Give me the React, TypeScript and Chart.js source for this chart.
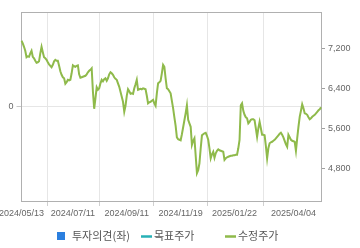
import React, { useEffect, useRef } from "react";
import { Chart, registerables } from "chart.js";

Chart.register(...registerables);

// Korean market holidays in the period (no trading)
const HOLIDAYS = [
  "2024/05/15", "2024/06/06", "2024/08/15", "2024/09/16", "2024/09/17", "2024/09/18",
  "2024/10/01", "2024/10/03", "2024/10/09", "2024/12/25", "2024/12/31", "2025/01/01",
  "2025/01/27", "2025/01/28", "2025/01/29", "2025/01/30", "2025/03/03", "2025/05/01",
  "2025/05/05", "2025/05/06",
];
const START_DATE = "2024/05/13";
const END_DATE = "2025/05/09";

const TICK_LABELS = ["2024/05/13", "2024/07/11", "2024/09/11", "2024/11/19", "2025/01/22", "2025/04/04"];
const RIGHT_TICKS = [4800, 5600, 6400, 7200];
const LEFT_TICKS = [0];

const SERIES_NAMES = ["투자의견(좌)", "목표주가", "수정주가"];
const OPINION: (number | null)[] = [];
const TARGET: (number | null)[] = [];
const PRICE = [
  7350, 7300, 7230, 7150, 7020, 7040, 7030, 7100, 7150, 7030,
  7000, 6950, 6910, 6920, 6940, 7100, 7230, 7120, 7020, 7000,
  6970, 6920, 6880, 6850, 6820, 6870, 6940, 6970, 6950, 6950,
  6850, 6740, 6670, 6620, 6600, 6490, 6520, 6570, 6560, 6570,
  6700, 6860, 6840, 6830, 6850, 6860, 6680, 6610, 6620, 6630,
  6640, 6650, 6680, 6720, 6750, 6770, 6800, 6330, 5990, 6200,
  6420, 6370, 6400, 6500, 6570, 6540, 6580, 6600, 6550, 6600,
  6680, 6720, 6700, 6670, 6620, 6590, 6570, 6500, 6430, 6330,
  6230, 6130, 5930, 6050, 6250, 6380, 6340, 6290, 6300, 6290,
  6400, 6480, 6570, 6370, 6380, 6390, 6380, 6400, 6390, 6380,
  6250, 6100, 6120, 6130, 6150, 6170, 6100, 6050, 6300, 6500,
  6520, 6550, 6700, 6870, 6830, 6600, 6400, 6380, 6340, 6300,
  6150, 6000, 5820, 5650, 5420, 5380, 5370, 5360, 5480, 5620,
  5760, 5900, 6060, 5770, 5700, 5630, 5270, 5350, 5400, 5050,
  4700, 4760, 4900, 5200, 5460, 5480, 5500, 5510, 5450, 5370,
  5200, 5000, 5080, 5130, 5010, 5100, 5150, 5180, 5160, 5150,
  5140, 5130, 4970, 5000, 5020, 5030, 5040, 5050, 5050, 5060,
  5060, 5070, 5070, 5200, 5370, 6060, 6100, 5950, 5870, 5820,
  5800, 5700, 5730, 5770, 5780, 5780, 5760, 5600, 5430, 5600,
  5730, 5600, 5470, 5470, 5460, 5250, 5000, 5200, 5300, 5320,
  5330, 5350, 5370, 5400, 5430, 5460, 5490, 5510, 5470, 5420,
  5350, 5280, 5230, 5470, 5420, 5370, 5350, 5340, 5330, 5150,
  5400, 5630, 5830, 5950, 6080, 6000, 5900, 5890, 5870, 5820,
  5780, 5800, 5830, 5850, 5870, 5900, 5930, 5960, 5980, 6020,
];

const COLORS = { opinion: "#2b7fdf", target: "#27b1b6", price: "#8fba4b" };

function fmt(d: Date) {
  const m = String(d.getMonth() + 1).padStart(2, "0");
  const day = String(d.getDate()).padStart(2, "0");
  return `${d.getFullYear()}/${m}/${day}`;
}

function tradingDays(): string[] {
  const out: string[] = [];
  const [sy, sm, sd] = START_DATE.split("/").map(Number);
  const d = new Date(sy, sm - 1, sd);
  for (let k = 0; k < 400; k++) {
    const s = fmt(d);
    const wd = d.getDay();
    if (wd !== 0 && wd !== 6 && !HOLIDAYS.includes(s)) out.push(s);
    if (s === END_DATE) break;
    d.setDate(d.getDate() + 1);
  }
  return out;
}

const frame = {
  id: "frame",
  beforeDatasetsDraw(chart: any) {
    const { ctx, chartArea: a } = chart;
    ctx.save();
    ctx.strokeStyle = "#b0b0b0";
    ctx.lineWidth = 1;
    ctx.strokeRect(Math.round(a.left) - 0.5, Math.round(a.top) + 0.5, Math.round(a.right - a.left), Math.round(a.bottom - a.top));
    ctx.restore();
  },
};

const legend = {
  id: "customLegend",
  afterDraw(chart: any) {
    const { ctx } = chart;
    const y = 236;
    ctx.save();
    ctx.font = '11px "Noto Sans CJK KR"';
    ctx.textBaseline = "middle";
    ctx.fillStyle = "#555";
    chart.data.datasets.forEach((ds: any, i: number) => {
      const x = 57 + i * 84;
      if (ds.type === "bar") {
        ctx.fillStyle = ds.backgroundColor;
        ctx.fillRect(x, 232, 8, 8);
        ctx.fillStyle = "#555";
        ctx.fillText(ds.label, x + 15, y);
      } else {
        ctx.strokeStyle = ds.borderColor;
        ctx.lineWidth = 2.5;
        ctx.beginPath();
        ctx.moveTo(x, y + 0.5);
        ctx.lineTo(x + 11, y + 0.5);
        ctx.stroke();
        ctx.fillStyle = "#555";
        ctx.fillText(ds.label, x + 13, y);
      }
    });
    ctx.restore();
  },
};

export default function App() {
  const ref = useRef<HTMLCanvasElement>(null);
  useEffect(() => {
    const labels = tradingDays();
    const tickFont = { family: "Liberation Sans", size: 9 };
    const chart = new Chart(ref.current!, {
      type: "line",
      data: {
        labels,
        datasets: [
          { type: "bar", label: SERIES_NAMES[0], data: OPINION, backgroundColor: COLORS.opinion, yAxisID: "y" } as any,
          { type: "line", label: SERIES_NAMES[1], data: TARGET, borderColor: COLORS.target, yAxisID: "y1", pointRadius: 0 },
          { type: "line", label: SERIES_NAMES[2], data: PRICE, borderColor: COLORS.price, borderWidth: 2, pointRadius: 0, tension: 0, yAxisID: "y1" },
        ],
      },
      options: {
        animation: false,
        responsive: false,
        devicePixelRatio: 1,
        layout: { padding: { top: 12, left: 0, right: 0, bottom: 0 } },
        plugins: { legend: { display: false }, tooltip: { enabled: false } },
        scales: {
          x: {
            type: "category",
            offset: false,
            border: { display: false },
            grid: { color: "#e6e6e6", tickColor: "#d0d0d0", tickLength: 5 },
            ticks: { autoSkip: false, maxRotation: 0, minRotation: 0, color: "#666", font: tickFont, padding: 2 },
            afterBuildTicks: (scale: any) => {
              scale.ticks = scale.ticks.filter((t: any) => TICK_LABELS.includes(labels[t.value]));
            },
            afterFit: (scale: any) => {
              scale.height = 47;
              scale.paddingLeft = 0;
              scale.paddingRight = 0;
            },
          },
          y: {
            position: "left",
            min: -1,
            max: 1,
            border: { display: false },
            grid: { color: "#e6e6e6", tickColor: "#c8c8c8", tickLength: 5 },
            ticks: { color: "#666", font: tickFont, padding: 3 },
            afterBuildTicks: (scale: any) => {
              scale.ticks = LEFT_TICKS.map((v) => ({ value: v }));
            },
            afterFit: (scale: any) => {
              scale.width = 21.5;
            },
          },
          y1: {
            position: "right",
            min: 4146,
            max: 7926,
            border: { display: false },
            grid: { drawOnChartArea: false, tickColor: "#a0a0a0", tickLength: 4 },
            ticks: {
              color: "#666",
              font: tickFont,
              padding: 3,
              callback: (v: any) => Number(v).toLocaleString("en-US"),
            },
            afterBuildTicks: (scale: any) => {
              scale.ticks = RIGHT_TICKS.map((v) => ({ value: v }));
            },
            afterFit: (scale: any) => {
              scale.width = 39;
            },
          },
        },
      },
      plugins: [frame, legend],
    });
    return () => chart.destroy();
  }, []);
  return (
    <div style={{ position: "fixed", left: 0, top: 0, width: 360, height: 248, background: "#fff" }}>
      <canvas ref={ref} width={360} height={248} style={{ display: "block" }} />
    </div>
  );
}
